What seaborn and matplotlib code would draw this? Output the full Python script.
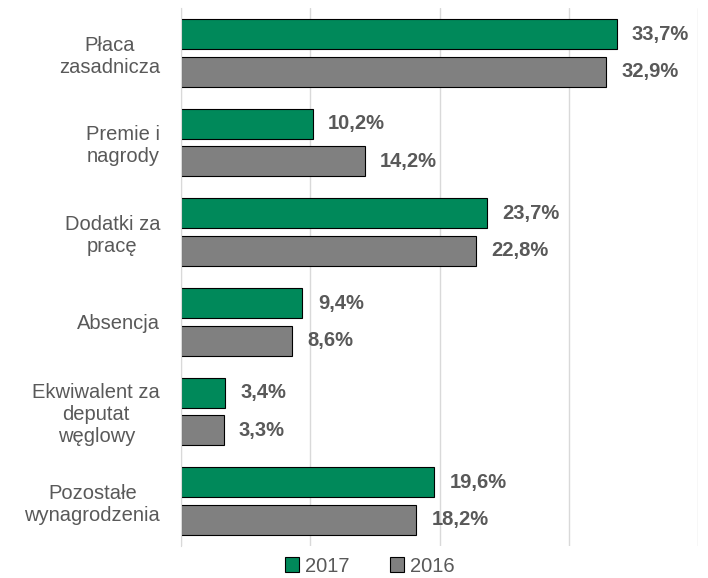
import matplotlib
matplotlib.use("Agg")
import matplotlib.pyplot as plt
import seaborn as sns
import pandas as pd

categories = ["Płaca\nzasadnicza", "Premie i\nnagrody", "Dodatki za\npracę", "Absencja",
              "Ekwiwalent za\ndeputat\nwęglowy", "Pozostałe\nwynagrodzenia"]
values_2017 = [33.7, 10.2, 23.7, 9.4, 3.4, 19.6]
values_2016 = [32.9, 14.2, 22.8, 8.6, 3.3, 18.2]
years = ["2017", "2016"]
colors = ["#00895A", "#808080"]
text_color = "#595959"

df = pd.DataFrame({
    "kategoria": categories * 2,
    "rok": [years[0]] * len(categories) + [years[1]] * len(categories),
    "udzial": values_2017 + values_2016,
})

sns.set_style("white")
plt.rcParams["font.family"] = ["Liberation Sans", "DejaVu Sans"]

fig = plt.figure(figsize=(7.08, 5.78), dpi=100)
ax = fig.add_axes([181 / 708, 1 - 546 / 578, (698 - 181) / 708, 538 / 578])

sns.barplot(data=df, y="kategoria", x="udzial", hue="rok", hue_order=years,
            palette=colors, saturation=1, orient="h", width=0.84, gap=0.2,
            edgecolor="black", linewidth=0.8, ax=ax, legend=False)

for cont, vals in zip(ax.containers, [values_2017, values_2016]):
    ax.bar_label(cont, labels=[f"{v:.1f}%".replace(".", ",") for v in vals],
                 padding=11, fontsize=14.5, fontweight="bold", color=text_color)

ax.set_xlim(0, 40)
ax.set_xticks([0, 10, 20, 30, 40])
ax.set_xticklabels([])
ax.tick_params(axis="both", length=0)
ax.tick_params(axis="y", pad=15, labelsize=14.5, labelcolor=text_color)
for lab in ax.get_yticklabels():
    lab.set_multialignment("center")
ax.grid(axis="x", color="#D9D9D9", linewidth=1)
ax.set_axisbelow(True)
for s in ["top", "right", "bottom"]:
    ax.spines[s].set_visible(False)
ax.spines["left"].set_color("#D9D9D9")
ax.set_xlabel("")
ax.set_ylabel("")

handles = [plt.Rectangle((0, 0), 1, 1, facecolor=c, edgecolor="black", linewidth=0.8) for c in colors]
leg = fig.legend(handles, years, loc="center", bbox_to_anchor=(370 / 708, 1 - 566 / 578),
                 ncol=2, frameon=False, fontsize=14.5, handlelength=0.7, handleheight=0.7,
                 handletextpad=0.3, columnspacing=2.0)
for t in leg.get_texts():
    t.set_color(text_color)

fig.savefig("out.png", dpi=100)
